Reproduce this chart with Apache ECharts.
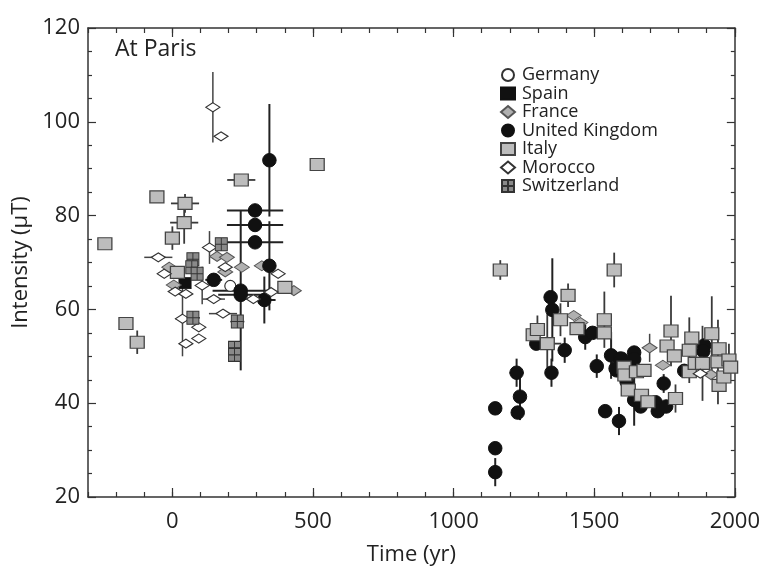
<!DOCTYPE html>
<html>
<head>
<meta charset="utf-8">
<script src="https://cdn.jsdelivr.net/npm/echarts@6/dist/echarts.min.js"></script>
<style>html,body{margin:0;padding:0;background:#fff}#c{width:763px;height:571px}</style>
</head>
<body>
<div id="c"></div>
<script>
// Each record: [time (yr), intensity (µT), vertical half-error, horizontal half-error]
const germany = [[206, 65, 0, 0]];
const spain = [[45, 65.6, 0, 0]];
const france = [
  [-11, 69, 0, 25], [159, 71.3, 0, 0], [194, 71.1, 0, 0], [247, 69, 0, 0], [318, 69.3, 0, 25],
  [432, 64, 0, 0], [188, 68, 0, 0], [5, 65.2, 0, 0],
  [1427, 58.7, 0, 0], [1451, 57.2, 0, 0], [1697, 51.8, 3, 25], [1744, 48.1, 0, 0], [1915, 46.1, 0, 0]
];
const unitedKingdom = [
  [345, 91.8, 12, 0], [294, 81.1, 0, 100], [294, 78, 0, 100], [294, 74.3, 0, 100], [345, 69.3, 9.5, 0],
  [147, 66.3, 0, 30], [243, 64, 17, 100], [243, 63.1, 0, 80], [327, 62, 5, 40],
  [1148, 38.9, 0, 10], [1148, 30.4, 0, 0], [1148, 25.3, 3, 0], [1224, 46.5, 3, 25], [1236, 41.4, 5, 0],
  [1228, 38, 0, 0], [1294, 52.7, 0, 0], [1345, 62.6, 0, 0], [1351, 59.9, 11, 0], [1348, 46.5, 3, 0],
  [1395, 51.3, 2.7, 0], [1468, 54.1, 2.7, 0], [1494, 55, 0, 0], [1509, 47.9, 2.5, 0], [1539, 38.3, 0, 0],
  [1588, 36.2, 3, 0], [1560, 50.2, 5, 0], [1591, 49.5, 0, 0], [1580, 47, 0, 0], [1597, 49.5, 0, 0],
  [1642, 50.8, 0, 0], [1642, 49.4, 0, 0], [1576, 47.4, 0, 0], [1615, 44.6, 0, 0], [1642, 40.7, 5.5, 0],
  [1665, 39.3, 0, 0], [1718, 40.2, 0, 0], [1726, 38.3, 0, 0], [1756, 39.3, 0, 0], [1747, 44.2, 2, 0],
  [1820, 46.9, 0, 0], [1891, 52.3, 0, 0], [1888, 51.1, 0, 0]
];
const italy = [
  [-240, 74, 0, 0], [-55, 84, 0, 0], [-165, 57, 0, 0], [-125, 53, 2.5, 0], [45, 82.6, 2, 50],
  [42, 78.5, 4.5, 50], [0, 75.2, 2.5, 0], [245, 87.6, 0, 50], [515, 90.9, 0, 0], [18, 67.9, 0, 0], [400, 64.7, 0, 0],
  [1166, 68.4, 2.1, 0], [1283, 54.6, 0, 0], [1298, 55.7, 3, 0], [1333, 52.7, 6.5, 50], [1380, 57.8, 3.5, 0],
  [1407, 63, 2.5, 0], [1439, 55.9, 0, 0], [1536, 57.8, 6, 0], [1536, 55, 0, 0], [1571, 68.4, 3.7, 0],
  [1606, 47.7, 0, 0], [1609, 46, 0, 0], [1621, 42.8, 0, 0], [1650, 46.7, 0, 0], [1668, 41.7, 0, 0],
  [1677, 47, 0, 0], [1691, 40.3, 0, 0], [1759, 52.2, 0, 0], [1773, 55.4, 7.5, 0], [1785, 50.1, 0, 0],
  [1789, 41, 3, 0], [1838, 46.7, 0, 0], [1847, 53.9, 0, 0], [1838, 51.3, 7, 0], [1859, 48.5, 0, 0],
  [1885, 48.5, 8, 0], [1918, 54.8, 8, 0], [1944, 51.6, 0, 0], [1940, 48.8, 9, 0], [1944, 43.8, 0, 0],
  [1961, 45.6, 0, 0], [1979, 49.2, 3.5, 0], [1985, 47.7, 0, 0]
];
const morocco = [
  [144, 103.1, 7.5, 0], [173, 96.9, 0, 0], [-50, 71.1, 0, 50], [132, 73.2, 3.5, 0], [188, 69, 0, 0],
  [-29, 67.6, 0, 0], [10, 63.8, 0, 0], [48, 63.3, 0, 0], [106, 65.1, 4, 0], [147, 62.2, 0, 40],
  [288, 62.2, 0, 40], [351, 63.7, 0, 0], [376, 67.6, 0, 0], [36, 58, 8, 25], [180, 59.1, 0, 50],
  [94, 56.2, 0, 0], [94, 53.8, 0, 0], [48, 52.7, 0, 0], [1877, 46.3, 0, 0]
];
const switzerland = [
  [174, 73.9, 0, 0], [73, 70.7, 0, 0], [69, 69, 0, 0], [88, 67.6, 0, 0], [73, 58.2, 0, 25],
  [231, 57.4, 0, 25], [221, 51.8, 0, 0], [221, 50.3, 0, 0]
];
const xMajorTicks = [0, 500, 1000, 1500, 2000];

const FONT = '"Open Sans", sans-serif';
const swissPath = 'path://M0,0h5v5h-5z M5,0h5v5h-5z M0,5h5v5h-5z M5,5h5v5h-5z';

const groups = [
  {name: 'Germany', data: germany, symbol: 'circle', size: 11, color: '#fff', border: '#333', bw: 1.2, err: '#444', ew: 1.5},
  {name: 'Spain', data: spain, symbol: 'rect', size: [12, 11], color: '#111', border: '#111', bw: 1, err: '#333', ew: 1.5},
  {name: 'France', data: france, symbol: 'diamond', size: [15, 10], color: '#b0b0b0', border: '#555', bw: 1, err: '#444', ew: 1.5},
  {name: 'United Kingdom', data: unitedKingdom, symbol: 'circle', size: 13.5, color: '#111', border: '#111', bw: 1, err: '#222', ew: 2},
  {name: 'Italy', data: italy, symbol: 'rect', size: [14, 12], color: '#bdbdbd', border: '#444', bw: 1.2, err: '#3a3a3a', ew: 1.8},
  {name: 'Morocco', data: morocco, symbol: 'diamond', size: [14, 9], color: '#fff', border: '#333', bw: 1.2, err: '#444', ew: 1.5},
  {name: 'Switzerland', data: switzerland, symbol: swissPath, size: [12, 13], color: '#8a8a8a', border: '#333', bw: 1, err: '#333', ew: 1.5}
];

function errRender(color, width) {
  return function (params, api) {
    const t = api.value(0), v = api.value(1), dv = api.value(2), dt = api.value(3);
    const ch = [];
    if (dv > 0) {
      const a = api.coord([t, v - dv]), b = api.coord([t, v + dv]);
      ch.push({type: 'line', shape: {x1: a[0], y1: a[1], x2: b[0], y2: b[1]}, style: {stroke: color, lineWidth: width}});
    }
    if (dt > 0) {
      const a = api.coord([t - dt, v]), b = api.coord([t + dt, v]);
      ch.push({type: 'line', shape: {x1: a[0], y1: a[1], x2: b[0], y2: b[1]}, style: {stroke: color, lineWidth: width}});
    }
    return {type: 'group', children: ch};
  };
}

const series = [];
groups.forEach(g => {
  series.push({
    type: 'custom', name: g.name + ' err', renderItem: errRender(g.err, g.ew),
    data: g.data, encode: {x: 0, y: 1}, z: 1, silent: true
  });
});
groups.forEach((g, i) => {
  series.push({
    type: 'scatter', name: g.name, data: g.data, encode: {x: 0, y: 1},
    symbol: g.symbol, symbolSize: g.size, symbolKeepAspect: false,
    itemStyle: {color: g.color, borderColor: g.border, borderWidth: g.bw, opacity: 1},
    z: 3 + i
  });
});

const axisLineStyle = {color: '#333', width: 1.5};
const baseX = {
  type: 'value', min: -300, max: 2000, interval: 100,
  axisLine: {show: true, onZero: false, lineStyle: axisLineStyle},
  splitLine: {show: false},
  axisTick: {inside: true, length: 5, lineStyle: {color: '#333', width: 1.2}}
};
const majorX = {
  type: 'value', min: -300, max: 2000,
  axisLine: {show: false}, splitLine: {show: false}, axisLabel: {show: false},
  axisTick: {inside: true, length: 9, customValues: xMajorTicks, lineStyle: {color: '#333', width: 1.2}}
};
const baseY = {
  type: 'value', min: 20, max: 120, interval: 20,
  axisLine: {show: true, onZero: false, lineStyle: axisLineStyle},
  splitLine: {show: false},
  axisTick: {inside: true, length: 8, lineStyle: {color: '#333', width: 1.2}},
  minorTick: {show: true, splitNumber: 4, length: 4, lineStyle: {color: '#333', width: 1.2}}
};

const chart = echarts.init(document.getElementById('c'), null, {renderer: 'canvas'});
chart.setOption({
  backgroundColor: '#fff',
  animation: false,
  textStyle: {fontFamily: FONT},
  title: {text: 'At Paris', left: 110, top: 33, textStyle: {fontFamily: FONT, fontSize: 23, fontWeight: 'normal', color: '#222'}},
  grid: {left: 88, right: 22, top: 28, bottom: 72},
  legend: {
    orient: 'vertical', left: 495, top: 61, itemWidth: 14, itemHeight: 12, itemGap: 0.5,
    textStyle: {fontFamily: FONT, fontSize: 18, lineHeight: 18, color: '#222', padding: [0, 0, 0, 2]},
    data: groups.map(g => ({name: g.name, icon: g.symbol}))
  },
  xAxis: [
    Object.assign({}, baseX, {
      position: 'bottom', name: 'Time (yr)', nameLocation: 'middle', nameGap: 47,
      nameTextStyle: {fontFamily: FONT, fontSize: 22, color: '#222'},
      axisLabel: {fontFamily: FONT, fontSize: 22, color: '#222', margin: 14,
        formatter: v => (v % 500 === 0 ? String(v) : '')}
    }),
    Object.assign({}, baseX, {position: 'top', axisLabel: {show: false}}),
    Object.assign({}, majorX, {position: 'bottom'}),
    Object.assign({}, majorX, {position: 'top'})
  ],
  yAxis: [
    Object.assign({}, baseY, {
      position: 'left', name: 'Intensity (µT)', nameLocation: 'middle', nameGap: 51,
      nameTextStyle: {fontFamily: FONT, fontSize: 22, color: '#222'},
      axisLabel: {fontFamily: FONT, fontSize: 22, color: '#222', margin: 8}
    }),
    Object.assign({}, baseY, {position: 'right', axisLabel: {show: false}})
  ],
  series: series
});
</script>
</body>
</html>
